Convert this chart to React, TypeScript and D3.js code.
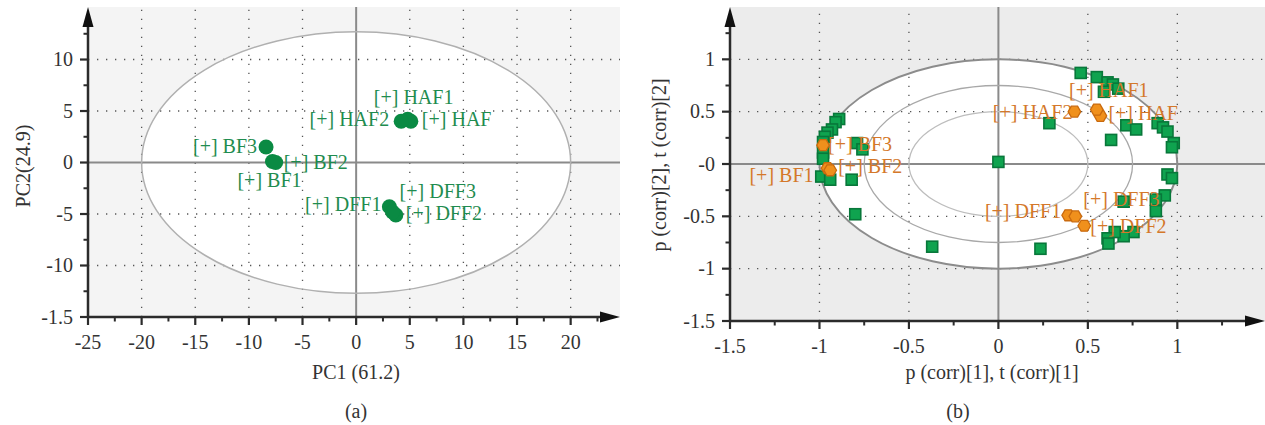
import React from 'react';
import * as d3 from 'd3';

// ---------- DATA ----------
const sampleNames = ['BF1', 'BF2', 'BF3', 'HAF', 'HAF1', 'HAF2', 'DFF1', 'DFF2', 'DFF3'];
// (a) score plot
const scorePC1 = [-7.8, -7.5, -8.4, 5.1, 4.8, 4.2, 3.1, 3.7, 3.4];
const scorePC2 = [0.1, 0.0, 1.5, 4.0, 4.2, 4.0, -4.3, -5.1, -4.8];
// (b) correlation loadings (variables, green squares)
const loadX = [
  -0.89, -0.91, -0.93, -0.955, -0.97, -0.98, -0.79, -0.76, -0.98, -0.98, -0.99, -0.94, -0.82,
  -0.8, -0.37, 0.235, 0.0, 0.285, 0.46, 0.55, 0.61, 0.64, 0.67, 0.59, 0.715, 0.77, 0.63,
  0.89, 0.92, 0.945, 0.98, 0.97, 0.945, 0.97, 0.93, 0.88, 0.88, 0.7, 0.755, 0.7, 0.65, 0.61, 0.615,
];
const loadY = [
  0.43, 0.4, 0.33, 0.3, 0.26, 0.21, 0.2, 0.14, 0.11, 0.05, -0.12, -0.15, -0.15,
  -0.48, -0.79, -0.81, 0.02, 0.39, 0.87, 0.83, 0.78, 0.76, 0.72, 0.69, 0.37, 0.33, 0.23,
  0.39, 0.35, 0.31, 0.2, 0.16, -0.1, -0.135, -0.3, -0.34, -0.45, -0.36, -0.65, -0.69, -0.65, -0.71, -0.76,
];
// (b) samples (orange hexagons)
const corrX = [-0.955, -0.94, -0.98, 0.57, 0.55, 0.425, 0.39, 0.48, 0.43];
const corrY = [-0.04, -0.06, 0.18, 0.46, 0.52, 0.5, -0.49, -0.59, -0.5];

const scoreXTicks = [-25, -20, -15, -10, -5, 0, 5, 10, 15, 20];
const scoreYTicks = [10, 5, 0, -5, -10, -15];
const scoreYTickLabels = ['10', '5', '0', '-5', '-10', '-1.5'];
const corrXTicks = [-1.5, -1, -0.5, 0, 0.5, 1];
const corrXTickLabels = ['-1.5', '-1', '-0.5', '0', '0.5', '1'];
const corrYTicks = [1, 0.5, 0, -0.5, -1, -1.5];
const corrYTickLabels = ['1', '0.5', '-0', '-0.5', '-1', '-1.5'];

// ---------- LAYOUT / STYLE ----------
const FONT = '"Liberation Serif", "Times New Roman", serif';
const FS = 20;
const AXIS = '#2b2b2b';
const TXT = '#333';

type Lbl = { dx: number; dy: number; a: 'start' | 'middle' | 'end' };
const scoreLabelPos: Record<string, Lbl> = {
  BF1: { dx: -3, dy: 26, a: 'middle' },
  BF2: { dx: 8, dy: 6, a: 'start' },
  BF3: { dx: -9, dy: 6, a: 'end' },
  HAF: { dx: 11, dy: 5, a: 'start' },
  HAF1: { dx: 6, dy: -15, a: 'middle' },
  HAF2: { dx: -12, dy: 5, a: 'end' },
  DFF1: { dx: -8, dy: 4, a: 'end' },
  DFF2: { dx: 10, dy: 5, a: 'start' },
  DFF3: { dx: 7, dy: -14, a: 'start' },
};
const corrLabelPos: Record<string, Lbl> = {
  BF1: { dx: -14, dy: 14, a: 'end' },
  BF2: { dx: 8, dy: 3, a: 'start' },
  BF3: { dx: 5, dy: 6, a: 'start' },
  HAF: { dx: 8, dy: 4, a: 'start' },
  HAF1: { dx: 12, dy: -13, a: 'middle' },
  HAF2: { dx: -2, dy: 7, a: 'end' },
  DFF1: { dx: -7, dy: 3, a: 'end' },
  DFF2: { dx: 6, dy: 7, a: 'start' },
  DFF3: { dx: 8, dy: -10, a: 'start' },
};

function hexPath(r: number) {
  const pts = d3.range(6).map((i) => {
    const a = (Math.PI / 3) * i;
    return [r * Math.cos(a), r * Math.sin(a)];
  });
  return 'M' + pts.map((p) => p.join(',')).join('L') + 'Z';
}

type PanelProps = {
  x: d3.ScaleLinear<number, number>;
  y: d3.ScaleLinear<number, number>;
  bg: string;
  xTicks: number[];
  xTickLabels: string[];
  yTicks: number[];
  yTickLabels: string[];
  gridX: number[];
  gridY: number[];
  minorX: number[];
  minorY: number[];
  children?: React.ReactNode;
  under?: React.ReactNode;
};

function Panel(p: PanelProps) {
  const [x0, x1] = p.x.range();
  const [y0, y1] = p.y.range(); // y0 bottom, y1 top
  return (
    <g>
      <rect x={x0} y={y1} width={x1 - x0} height={y0 - y1} fill={p.bg} />
      {p.under}
      {p.gridX.map((v) => (
        <line key={'gx' + v} x1={p.x(v)} x2={p.x(v)} y1={y0} y2={y1} stroke="#555" strokeWidth={1.3} strokeDasharray="1.3 7.7" />
      ))}
      {p.gridY.map((v) => (
        <line key={'gy' + v} x1={x0} x2={x1} y1={p.y(v)} y2={p.y(v)} stroke="#555" strokeWidth={1.3} strokeDasharray="1.3 7.7" />
      ))}
      <line x1={p.x(0)} x2={p.x(0)} y1={y0} y2={y1} stroke="#8a8a8a" strokeWidth={2} />
      <line x1={x0} x2={x1} y1={p.y(0)} y2={p.y(0)} stroke="#8a8a8a" strokeWidth={2} />
      {p.children}
      {/* axes */}
      <line x1={x0} x2={x1 - 14} y1={y0} y2={y0} stroke={AXIS} strokeWidth={2.5} />
      <path d={`M${x1},${y0}L${x1 - 20},${y0 - 5.5}L${x1 - 20},${y0 + 5.5}Z`} fill="#111" />
      <line x1={x0} x2={x0} y1={y0} y2={y1 + 14} stroke={AXIS} strokeWidth={2.5} />
      <path d={`M${x0},${y1}L${x0 - 5.5},${y1 + 20}L${x0 + 5.5},${y1 + 20}Z`} fill="#111" />
      {p.xTicks.map((v) => (
        <line key={'xt' + v} x1={p.x(v)} x2={p.x(v)} y1={y0} y2={y0 + 8} stroke={AXIS} strokeWidth={2.2} />
      ))}
      {p.minorX.map((v) => (
        <line key={'xm' + v} x1={p.x(v)} x2={p.x(v)} y1={y0} y2={y0 + 4.5} stroke={AXIS} strokeWidth={2} />
      ))}
      {p.yTicks.map((v) => (
        <line key={'yt' + v} x1={x0 - 8} x2={x0} y1={p.y(v)} y2={p.y(v)} stroke={AXIS} strokeWidth={2.2} />
      ))}
      {p.minorY.map((v) => (
        <line key={'ym' + v} x1={x0 - 4.5} x2={x0} y1={p.y(v)} y2={p.y(v)} stroke={AXIS} strokeWidth={2} />
      ))}
      {p.xTicks.map((v, i) => (
        <text key={'xl' + v} x={p.x(v)} y={y0 + 32} textAnchor="middle" fontFamily={FONT} fontSize={FS} fill={TXT}>
          {p.xTickLabels[i]}
        </text>
      ))}
      {p.yTicks.map((v, i) => (
        <text key={'yl' + v} x={x0 - 15} y={p.y(v) + 6.5} textAnchor="end" fontFamily={FONT} fontSize={FS} fill={TXT}>
          {p.yTickLabels[i]}
        </text>
      ))}
    </g>
  );
}

export default function App() {
  const W = 1265;
  const H = 425;

  // panel (a)
  const xa = d3.scaleLinear().domain([-25, 24.6]).range([88, 620]);
  const ya = d3.scaleLinear().domain([-15, 15.1]).range([317, 7]);
  // panel (b)
  const xb = d3.scaleLinear().domain([-1.5, 1.49]).range([730, 1265]);
  const yb = d3.scaleLinear().domain([-1.5, 1.5]).range([321, 7]);

  const green = '#0a8a43';
  const greenTxt = '#1f8c4f';
  const orangeTxt = '#d4782a';

  const ellA = { rx: 20, ry: 12.7 };
  const corrRings = [1, 0.75, 0.5];
  const hex = hexPath(6.3);

  return (
    <svg width={W} height={H} style={{ position: 'absolute', left: 0, top: 0, background: '#fff' }}>
      {/* ---------- (a) ---------- */}
      <Panel
        x={xa}
        y={ya}
        bg="#f4f4f4"
        xTicks={scoreXTicks}
        xTickLabels={scoreXTicks.map(String)}
        yTicks={scoreYTicks}
        yTickLabels={scoreYTickLabels}
        gridX={[-20, -15, -10, -5, 5, 10, 15, 20]}
        gridY={[10, 5, -5, -10]}
        minorX={d3.range(-22.5, 24, 5)}
        minorY={d3.range(-12.5, 15, 5)}
        under={
          <ellipse
            cx={xa(0)}
            cy={ya(0)}
            rx={xa(ellA.rx) - xa(0)}
            ry={ya(0) - ya(ellA.ry)}
            fill="#fff"
          />
        }
      >
        <ellipse
          cx={xa(0)}
          cy={ya(0)}
          rx={xa(ellA.rx) - xa(0)}
          ry={ya(0) - ya(ellA.ry)}
          fill="none"
          stroke="#b0b0b0"
          strokeWidth={1.5}
        />
        {sampleNames.map((n, i) => (
          <circle key={'c' + n} cx={xa(scorePC1[i])} cy={ya(scorePC2[i])} r={7.5} fill={green} />
        ))}
        {sampleNames.map((n, i) => {
          const l = scoreLabelPos[n];
          return (
            <text
              key={'t' + n}
              x={xa(scorePC1[i]) + l.dx}
              y={ya(scorePC2[i]) + l.dy}
              textAnchor={l.a}
              fontFamily={FONT}
              fontSize={FS}
              fill={greenTxt}
            >
              {'[+] ' + n}
            </text>
          );
        })}
      </Panel>
      <text x={356} y={379} textAnchor="middle" fontFamily={FONT} fontSize={FS} fill={TXT}>
        PC1 (61.2)
      </text>
      <text
        transform={`translate(30,166) rotate(-90)`}
        textAnchor="middle"
        fontFamily={FONT}
        fontSize={FS}
        fill={TXT}
      >
        PC2(24.9)
      </text>
      <text x={356} y={418} textAnchor="middle" fontFamily={FONT} fontSize={FS} fill={TXT}>
        (a)
      </text>

      {/* ---------- (b) ---------- */}
      <Panel
        x={xb}
        y={yb}
        bg="#ececec"
        xTicks={corrXTicks}
        xTickLabels={corrXTickLabels}
        yTicks={corrYTicks}
        yTickLabels={corrYTickLabels}
        gridX={[-1, -0.5, 0.5, 1]}
        gridY={[1, 0.5, -0.5, -1]}
        minorX={d3.range(-1.25, 1.4, 0.5)}
        minorY={d3.range(-1.25, 1.4, 0.5)}
        under={
          <ellipse cx={xb(0)} cy={yb(0)} rx={xb(1) - xb(0)} ry={yb(0) - yb(1)} fill="#fff" />
        }
      >
        {corrRings.map((r, i) => (
          <ellipse
            key={'ring' + r}
            cx={xb(0)}
            cy={yb(0)}
            rx={xb(r) - xb(0)}
            ry={yb(0) - yb(r)}
            fill="none"
            stroke={i === 0 ? '#8c8c8c' : i === 1 ? '#a8a8a8' : '#bdbdbd'}
            strokeWidth={i === 0 ? 2 : 1.3}
          />
        ))}
        {loadX.map((v, i) => (
          <rect
            key={'sq' + i}
            x={xb(v) - 5.5}
            y={yb(loadY[i]) - 5.5}
            width={11}
            height={11}
            fill="#0fa34f"
            stroke="#08773a"
            strokeWidth={1.6}
          />
        ))}
        {sampleNames.map((n, i) => {
          const l = corrLabelPos[n];
          return (
            <text
              key={'bt' + n}
              x={xb(corrX[i]) + l.dx}
              y={yb(corrY[i]) + l.dy}
              textAnchor={l.a}
              fontFamily={FONT}
              fontSize={FS}
              fill={orangeTxt}
            >
              {'[+] ' + n}
            </text>
          );
        })}
        {sampleNames.map((n, i) => (
          <path
            key={'hx' + n}
            d={hex}
            transform={`translate(${xb(corrX[i])},${yb(corrY[i])})`}
            fill="#f0901c"
            stroke="#c96a0e"
            strokeWidth={1.3}
          />
        ))}
      </Panel>
      <text x={992} y={379} textAnchor="middle" fontFamily={FONT} fontSize={FS} fill={TXT}>
        p (corr)[1], t (corr)[1]
      </text>
      <text
        transform={`translate(666,165) rotate(-90)`}
        textAnchor="middle"
        fontFamily={FONT}
        fontSize={FS}
        fill={TXT}
      >
        p (corr)[2], t (corr)[2]
      </text>
      <text x={958} y={418} textAnchor="middle" fontFamily={FONT} fontSize={FS} fill={TXT}>
        (b)
      </text>
    </svg>
  );
}
